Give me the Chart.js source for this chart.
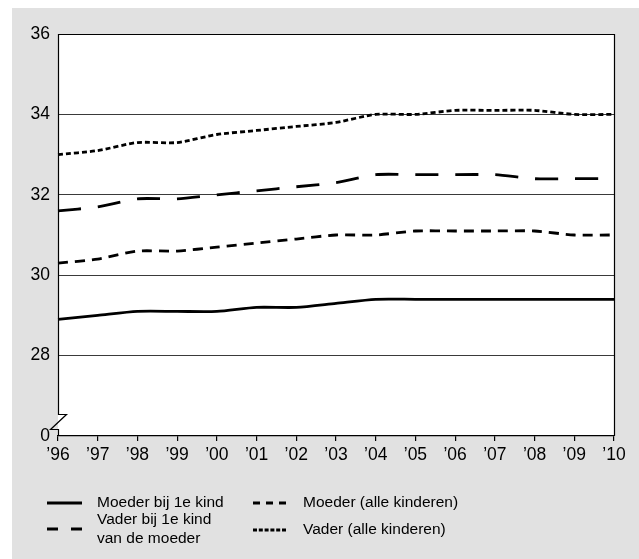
<!DOCTYPE html>
<html>
<head>
<meta charset="utf-8">
<script src="https://cdn.jsdelivr.net/npm/chart.js@4"></script>
<style>
body { margin: 0; background: #fff; }
#wrap { position: relative; width: 639px; height: 559px; }
#bg { position: absolute; left: 12px; top: 8px; right: 0; bottom: 0; background: #e1e1e1; }
#chart { position: absolute; left: 0; top: 0; }
</style>
</head>
<body>
<div id="wrap"><div id="bg"></div><canvas id="chart" width="639" height="559"></canvas></div>
<script>
// jaren
const years = ['\u201996', '\u201997', '\u201998', '\u201999', '\u201900', '\u201901', '\u201902',
               '\u201903', '\u201904', '\u201905', '\u201906', '\u201907', '\u201908', '\u201909', '\u201910'];

// gemiddelde leeftijd
const moederEersteKind = [28.9, 29.0, 29.1, 29.1, 29.1, 29.2, 29.2, 29.3, 29.4, 29.4, 29.4, 29.4, 29.4, 29.4, 29.4];
const moederAlle       = [30.3, 30.4, 30.6, 30.6, 30.7, 30.8, 30.9, 31.0, 31.0, 31.1, 31.1, 31.1, 31.1, 31.0, 31.0];
const vaderEersteKind  = [31.6, 31.7, 31.9, 31.9, 32.0, 32.1, 32.2, 32.3, 32.5, 32.5, 32.5, 32.5, 32.4, 32.4, 32.4];
const vaderAlle        = [33.0, 33.1, 33.3, 33.3, 33.5, 33.6, 33.7, 33.8, 34.0, 34.0, 34.1, 34.1, 34.1, 34.0, 34.0];

const yTicks = [28, 30, 32, 34, 36];
const yBreakValue = 26; // shown as 0

const FONT = "'Liberation Sans', Arial, Helvetica, sans-serif";

function makeLine(label, data, dash, legendDash) {
    return {
        label: label,
        data: data,
        borderColor: '#000',
        borderWidth: 2.8,
        borderDash: dash,
        legendDash: legendDash,
        borderCapStyle: 'butt',
        pointRadius: 0,
        tension: 0.25,
        fill: false
    };
}

const plotBg = {
    id: 'plotBg',
    beforeDraw(chart) {
        const a = chart.chartArea, ctx = chart.ctx;
        ctx.save();
        ctx.fillStyle = '#fff';
        ctx.fillRect(a.left, a.top, a.right - a.left, a.bottom - a.top);
        ctx.restore();
    }
};

// frame with axis break on the left
const frame = {
    id: 'frame',
    afterDatasetsDraw(chart) {
        const a = chart.chartArea, ctx = chart.ctx, y = chart.scales.y;
        const bTop = Math.round(y.getPixelForValue(26.55)) + 0.5;
        const bBot = Math.round(y.getPixelForValue(26.17)) + 0.5;
        const l = a.left + 0.5;
        ctx.save();
        ctx.strokeStyle = '#000';
        ctx.lineWidth = 1.2;
        ctx.beginPath();
        ctx.moveTo(a.left, a.top + 0.5);
        ctx.lineTo(a.right + 0.5, a.top + 0.5);
        ctx.lineTo(a.right + 0.5, a.bottom);
        ctx.moveTo(l, a.top);
        ctx.lineTo(l, bTop);
        ctx.lineTo(l + 8, bTop);
        ctx.lineTo(l - 8, bBot);
        ctx.lineTo(l, bBot);
        ctx.lineTo(l, a.bottom);
        ctx.stroke();
        ctx.restore();
    }
};

const legendBox = {
    id: 'legendBox',
    afterDraw(chart) {
        const ctx = chart.ctx;
        const slots = [
            {x: 47, y: 503, w: 35},
            {x: 253, y: 503, w: 33},
            {x: 47, y: 529, w: 35},
            {x: 253, y: 530, w: 33}
        ];
        ctx.save();
        ctx.font = '15.5px ' + FONT;
        ctx.fillStyle = '#000';
        ctx.textBaseline = 'middle';
        slots.forEach((s, i) => {
            const ds = chart.data.datasets[i];
            ctx.strokeStyle = '#000';
            ctx.lineWidth = 2.8;
            ctx.setLineDash(ds.legendDash);
            ctx.beginPath();
            ctx.moveTo(s.x, s.y);
            ctx.lineTo(s.x + s.w, s.y);
            ctx.stroke();
            ctx.setLineDash([]);
            const lines = ds.label.split('\n');
            const tx = s.x + s.w + (i % 2 === 0 ? 15 : 17);
            const lh = 19;
            const y0 = s.y - (lines.length - 1) * lh / 2;
            lines.forEach((t, k) => ctx.fillText(t, tx, y0 + k * lh));
        });
        ctx.restore();
    }
};

new Chart(document.getElementById('chart'), {
    type: 'line',
    data: {
        labels: years,
        datasets: [
            makeLine('Moeder bij 1e kind', moederEersteKind, [], []),
            makeLine('Moeder (alle kinderen)', moederAlle, [10, 7], [7, 6]),
            makeLine('Vader bij 1e kind\nvan de moeder', vaderEersteKind, [23, 17], [11, 13]),
            makeLine('Vader (alle kinderen)', vaderAlle, [5, 3], [4, 1.8])
        ]
    },
    options: {
        responsive: false,
        animation: false,
        layout: {padding: {left: 0, top: 34, right: 25, bottom: 93}},
        plugins: {legend: {display: false}, tooltip: {enabled: false}},
        scales: {
            x: {
                offset: false,
                grid: {drawOnChartArea: false, drawTicks: true, tickLength: 5, color: '#000', lineWidth: 1.2},
                border: {display: true, color: '#000', width: 1.2},
                ticks: {color: '#000', font: {family: FONT, size: 17.5}, padding: 4, maxRotation: 0, autoSkip: false},
                afterFit(s) { s.height = 30; }
            },
            y: {
                min: yBreakValue,
                max: 36,
                afterBuildTicks(s) { s.ticks = [yBreakValue].concat(yTicks).map(v => ({value: v})); },
                grid: {
                    drawTicks: false,
                    lineWidth: 1,
                    color: (c) => (c.tick && yTicks.includes(c.tick.value) && c.tick.value !== 36) ? '#3a3a3a' : 'rgba(0,0,0,0)'
                },
                border: {display: false},
                ticks: {
                    color: '#000',
                    font: {family: FONT, size: 17.5},
                    padding: 8,
                    callback: (v) => v === yBreakValue ? '0' : v
                },
                afterFit(s) { s.width = 58; }
            }
        }
    },
    plugins: [plotBg, frame, legendBox]
});
</script>
</body>
</html>
